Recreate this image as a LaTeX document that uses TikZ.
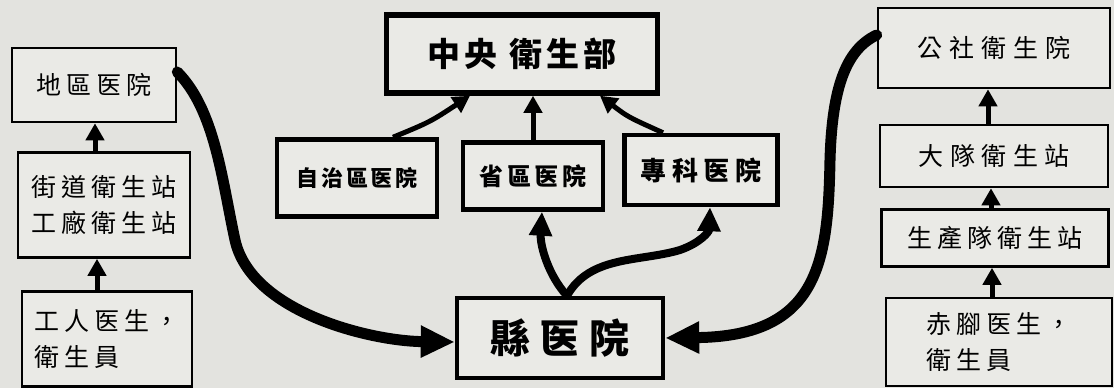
\documentclass[tikz,border=0pt]{standalone}
\usepackage{fontspec}
\usetikzlibrary{arrows.meta}
\newfontfamily\hand{Noto Sans CJK TC}
\definecolor{paper}{HTML}{E3E3DF}
\definecolor{boxfill}{HTML}{EAEAE6}
\tikzset{
  sidebox/.style={draw=black, line width=2.6pt, fill=boxfill, inner sep=0pt,
    font=\hand\fontsize{25}{36}\selectfont\addfontfeature{LetterSpace=20}},
  centbox/.style={draw=black, line width=4.5pt, fill=boxfill, inner sep=0pt,
    font=\hand\bfseries\fontsize{23}{28}\selectfont\addfontfeature{LetterSpace=8}},
  smallarrow/.style={line width=5pt, -{Triangle[length=17pt,width=18pt]}},
  toparrow/.style={line width=5pt, -{Triangle[length=17pt,width=18pt]}},
  midarrow/.style={line width=8pt, -{Triangle[length=24pt,width=22pt]}},
  bigarrow/.style={line width=11pt, line cap=round, -{Triangle[length=34pt,width=30pt]}}
}
\begin{document}
\begin{tikzpicture}[x=1pt,y=-1pt]
\fill[paper] (0,0) rectangle (1114,388);
\useasboundingbox (0,0) rectangle (1114,388);

% left column
\node[sidebox, minimum width=164pt, minimum height=74pt] (diqu) at (94,85) {地區医院};
\node[sidebox, minimum width=172pt, minimum height=105pt, align=center] (jiedao) at (104,205) {街道衛生站\\工廠衛生站};
\node[sidebox, minimum width=170pt, minimum height=95pt, align=left] (gongren) at (107,339) {工人医生，\\衛生員};

% centre
\node[centbox, line width=5.5pt, minimum width=271pt, minimum height=78pt,
  font=\hand\bfseries\fontsize{33}{36}\selectfont\addfontfeature{LetterSpace=12}] (zhongyang) at (522,54) {中央\hspace{12pt}衛生部};
\node[centbox, minimum width=160pt, minimum height=77pt,
  font=\hand\bfseries\fontsize{22}{26}\selectfont\addfontfeature{LetterSpace=12}] (zizhi) at (357,178) {自治區医院};
\node[centbox, minimum width=140pt, minimum height=67pt,
  font=\hand\bfseries\fontsize{24}{28}\selectfont\addfontfeature{LetterSpace=16}] (sheng) at (533,176) {省區医院};
\node[centbox, minimum width=153pt, minimum height=70pt,
  font=\hand\bfseries\fontsize{26}{30}\selectfont\addfontfeature{LetterSpace=22}] (zhuanke) at (701,170) {專科医院};
\node[centbox, minimum width=206pt, minimum height=80pt,
  font=\hand\bfseries\fontsize{40}{44}\selectfont\addfontfeature{LetterSpace=24}] (xian) at (560,338) {縣医院};

% right column
\node[sidebox, minimum width=232pt, minimum height=80pt,
  font=\hand\fontsize{25}{36}\selectfont\addfontfeature{LetterSpace=28}] (gongshe) at (994,48) {公社衛生院};
\node[sidebox, minimum width=228pt, minimum height=62pt,
  font=\hand\fontsize{25}{36}\selectfont\addfontfeature{LetterSpace=26}] (dadui) at (994,156) {大隊衛生站};
\node[sidebox, minimum width=227pt, minimum height=57pt] (shengchan) at (995,238) {生產隊衛生站};
\node[sidebox, minimum width=226pt, minimum height=88pt, align=left] (chijiao) at (999,342) {赤腳医生，\\衛生員};

% vertical arrows
\draw[smallarrow] ([xshift=-9pt]jiedao.north) -- ([xshift=1pt]diqu.south);
\draw[smallarrow] ([xshift=-10pt]gongren.north) -- ([xshift=-7pt]jiedao.south);
\draw[smallarrow] ([xshift=-6pt]dadui.north) -- ([xshift=-6pt]gongshe.south);
\draw[smallarrow] ([xshift=-4pt]shengchan.north) -- ([xshift=-3pt]dadui.south);
\draw[smallarrow] ([xshift=-7pt]chijiao.north) -- ([xshift=-3pt]shengchan.south);

% top arrows
\draw[toparrow] ([xshift=36pt]zizhi.north) .. controls (430,122) .. ([xshift=-52pt]zhongyang.south);
\draw[toparrow] (sheng.north) -- ([xshift=11pt]zhongyang.south);
\draw[toparrow] ([xshift=-38pt]zhuanke.north) .. controls (628,117) .. ([xshift=78pt]zhongyang.south);

% county hospital upward arrows
\draw[midarrow] ([xshift=7pt]xian.north) .. controls (548,275) and (540,245) .. ([xshift=9pt]sheng.south);
\draw[midarrow] ([xshift=7pt]xian.north) .. controls (590,255) and (640,262) .. (680,250)
   .. controls (700,243) and (709,232) .. ([xshift=9pt]zhuanke.south);

% big curves
\draw[bigarrow] ([yshift=13pt]diqu.east) .. controls (215,110) and (222,180) .. (235,240)
   .. controls (251,312) and (370,341) .. ([yshift=-4pt]xian.west);
\draw[bigarrow] ([yshift=13pt]gongshe.west) .. controls (845,50) and (832,90) .. (830,160)
   .. controls (828,260) and (820,336) .. (xian.east);
\end{tikzpicture}
\end{document}
